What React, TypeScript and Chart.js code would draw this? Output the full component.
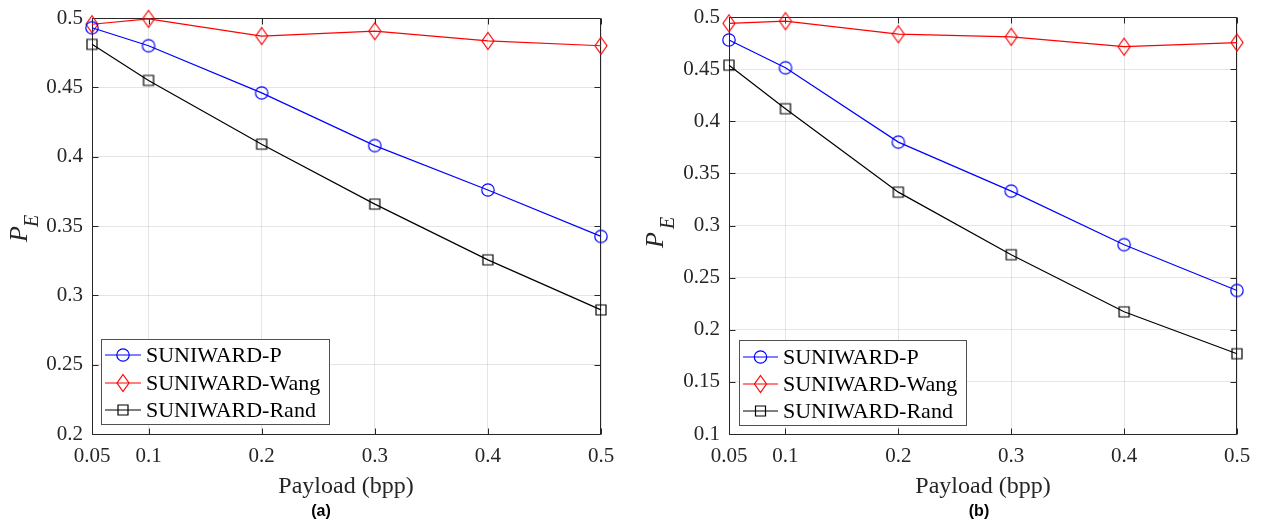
import React, { useEffect, useRef } from 'react';
import { Chart, registerables } from 'chart.js';

Chart.register(...registerables);

// ---------------- data ----------------
const payloads = [0.05, 0.1, 0.2, 0.3, 0.4, 0.5];
const xTickValues = [0.05, 0.1, 0.2, 0.3, 0.4, 0.5];
const seriesNames = ['SUNIWARD-P', 'SUNIWARD-Wang', 'SUNIWARD-Rand'];

const aP = [0.493, 0.48, 0.446, 0.408, 0.376, 0.3425];
const aWang = [0.4955, 0.4994, 0.487, 0.4905, 0.4835, 0.48];
const aRand = [0.481, 0.455, 0.409, 0.3658, 0.3256, 0.2895];
const aYTicks = [0.2, 0.25, 0.3, 0.35, 0.4, 0.45, 0.5];

const bP = [0.478, 0.4513, 0.38, 0.333, 0.2816, 0.2377];
const bWang = [0.4939, 0.496, 0.4835, 0.481, 0.4715, 0.4755];
const bRand = [0.4538, 0.412, 0.332, 0.272, 0.2172, 0.177];
const bYTicks = [0.1, 0.15, 0.2, 0.25, 0.3, 0.35, 0.4, 0.45, 0.5];

const xTitle = 'Payload (bpp)';
const captions = ['(a)', '(b)'];

// ---------------- styles ----------------
const COLORS = ['#0000ff', '#ff0000', '#000000'];
const MARKERS = ['circle', 'diamond', 'square'];
const AXIS = '#262626';
const GRID = 'rgba(38,38,38,0.12)';
const SERIF = 'Liberation Serif';

Chart.defaults.font.family = SERIF;

function drawMarker(ctx: CanvasRenderingContext2D, kind: string, x: number, y: number) {
  ctx.beginPath();
  if (kind === 'circle') {
    ctx.arc(x, y, 6.2, 0, Math.PI * 2);
  } else if (kind === 'diamond') {
    ctx.moveTo(x, y - 8.5);
    ctx.lineTo(x + 6, y);
    ctx.lineTo(x, y + 8.5);
    ctx.lineTo(x - 6, y);
    ctx.closePath();
  } else {
    ctx.rect(x - 5, y - 5, 10, 10);
  }
  ctx.stroke();
}

function makeMarker(kind: string, color: string) {
  const c = document.createElement('canvas');
  const w = kind === 'square' ? 14 : 16;
  const h = kind === 'diamond' ? 22 : kind === 'square' ? 14 : 16;
  c.width = w;
  c.height = h;
  const ctx = c.getContext('2d')!;
  ctx.strokeStyle = color;
  ctx.lineWidth = 1.2;
  drawMarker(ctx, kind, w / 2, h / 2);
  return c;
}

type PanelCfg = {
  series: number[][];
  yTicks: number[];
  yMin: number;
  yMax: number;
  left: number;
  top: number;
  padRight: number;
  yTitleX: number;
  yTitleY: number;
  eOffset: number;
  legend: { x: number; y: number; w: number; h: number; l0: number; l1: number; tx: number; rows: number[] };
  xTitleX: number;
  capX: number;
  caption: string;
};

const panels: PanelCfg[] = [
  {
    series: [aP, aWang, aRand],
    yTicks: aYTicks,
    yMin: 0.2,
    yMax: 0.5,
    left: 92,
    top: 18,
    padRight: 30,
    yTitleX: 27,
    yTitleY: 242,
    eOffset: 15,
    legend: { x: 101, y: 339, w: 228, h: 85, l0: 105, l1: 141, tx: 146, rows: [355, 383, 410] },
    xTitleX: 346,
    capX: 321,
    caption: captions[0],
  },
  {
    series: [bP, bWang, bRand],
    yTicks: bYTicks,
    yMin: 0.1,
    yMax: 0.5,
    left: 98,
    top: 17,
    padRight: 25,
    yTitleX: 32,
    yTitleY: 248,
    eOffset: 19,
    legend: { x: 108, y: 340, w: 227, h: 85, l0: 112, l1: 147, tx: 152, rows: [357, 384, 411] },
    xTitleX: 352,
    capX: 348,
    caption: captions[1],
  },
];

function Panel({ cfg }: { cfg: PanelCfg }) {
  const ref = useRef<HTMLCanvasElement | null>(null);

  useEffect(() => {
    const canvas = ref.current!;
    const deco = {
      id: 'deco',
      beforeDatasetsDraw(chart: any) {
        const { ctx, chartArea } = chart;
        const xs = chart.scales.x;
        const ys = chart.scales.y;
        const L = Math.round(chartArea.left) + 0.5;
        const R = Math.round(chartArea.right) - 0.5;
        const T = Math.round(chartArea.top) + 0.5;
        const B = Math.round(chartArea.bottom) + 0.5;
        ctx.save();
        ctx.strokeStyle = AXIS;
        ctx.lineWidth = 1;
        ctx.beginPath();
        ctx.rect(L, T, R - L, B - T);
        ctx.stroke();
        const tl = 6;
        ctx.beginPath();
        xTickValues.forEach((v) => {
          const px = Math.round(xs.getPixelForValue(v)) + 0.5;
          ctx.moveTo(px, B);
          ctx.lineTo(px, B - tl);
          ctx.moveTo(px, T);
          ctx.lineTo(px, T + tl);
        });
        cfg.yTicks.forEach((v) => {
          const py = Math.round(ys.getPixelForValue(v)) + 0.5;
          ctx.moveTo(L, py);
          ctx.lineTo(L + tl, py);
          ctx.moveTo(R, py);
          ctx.lineTo(R - tl, py);
        });
        ctx.stroke();
        ctx.restore();
      },
      afterDatasetsDraw(chart: any) {
        const { ctx } = chart;
        const lg = cfg.legend;
        ctx.save();
        ctx.fillStyle = '#ffffff';
        ctx.fillRect(lg.x, lg.y, lg.w, lg.h);
        ctx.strokeStyle = '#505050';
        ctx.lineWidth = 1;
        ctx.strokeRect(lg.x + 0.5, lg.y + 0.5, lg.w, lg.h);
        seriesNames.forEach((name, i) => {
          const y = lg.rows[i];
          ctx.strokeStyle = COLORS[i];
          ctx.lineWidth = 1.2;
          ctx.beginPath();
          ctx.moveTo(lg.l0, y);
          ctx.lineTo(lg.l1, y);
          ctx.stroke();
          drawMarker(ctx, MARKERS[i], (lg.l0 + lg.l1) / 2, y);
          ctx.fillStyle = '#000000';
          ctx.font = `22px ${SERIF}`;
          ctx.textAlign = 'left';
          ctx.textBaseline = 'middle';
          ctx.fillText(name, lg.tx, y + 1);
        });
        ctx.restore();
      },
      afterDraw(chart: any) {
        const { ctx } = chart;
        ctx.save();
        // y title P_E
        ctx.translate(cfg.yTitleX, cfg.yTitleY);
        ctx.rotate(-Math.PI / 2);
        ctx.fillStyle = AXIS;
        ctx.textAlign = 'left';
        ctx.textBaseline = 'alphabetic';
        ctx.font = `italic 26px ${SERIF}`;
        ctx.fillText('P', 0, 0);
        ctx.font = `italic 20px ${SERIF}`;
        ctx.fillText('E', cfg.eOffset, 11);
        ctx.restore();

        ctx.save();
        ctx.fillStyle = AXIS;
        ctx.textAlign = 'center';
        ctx.textBaseline = 'alphabetic';
        ctx.font = `24px ${SERIF}`;
        ctx.fillText(xTitle, cfg.xTitleX, 493);
        ctx.fillStyle = '#000000';
        ctx.font = `bold 16px Liberation Sans`;
        ctx.fillText(cfg.caption, cfg.capX, 516);
        ctx.restore();
      },
    };

    const tickFont = { family: SERIF, size: 21 };

    const chart = new Chart(canvas, {
      type: 'line',
      data: {
        datasets: cfg.series.map((vals, i) => ({
          label: seriesNames[i],
          data: payloads.map((x, j) => ({ x, y: vals[j] })),
          borderColor: COLORS[i],
          backgroundColor: COLORS[i],
          borderWidth: 1.2,
          pointStyle: makeMarker(MARKERS[i], COLORS[i]) as any,
          pointRadius: 6,
          pointHoverRadius: 6,
          tension: 0,
          fill: false,
          clip: false as any,
        })),
      },
      options: {
        responsive: false,
        animation: false,
        devicePixelRatio: 1,
        events: [],
        layout: { padding: { left: 0, top: cfg.top, right: cfg.padRight, bottom: 0 } },
        plugins: { legend: { display: false }, tooltip: { enabled: false } },
        scales: {
          x: {
            type: 'linear',
            min: 0.05,
            max: 0.5,
            afterBuildTicks: (s: any) => {
              s.ticks = xTickValues.map((v) => ({ value: v }));
            },
            afterFit: (s: any) => {
              s.height = 89;
              s.paddingLeft = 0;
              s.paddingRight = 0;
            },
            grid: { color: GRID, drawTicks: false, lineWidth: 1 },
            border: { display: false },
            ticks: {
              padding: 10,
              color: AXIS,
              autoSkip: false,
              maxRotation: 0,
              font: tickFont,
              callback: (v: any) => String(v),
            },
          },
          y: {
            type: 'linear',
            min: cfg.yMin,
            max: cfg.yMax,
            afterBuildTicks: (s: any) => {
              s.ticks = cfg.yTicks.map((v) => ({ value: v }));
            },
            afterFit: (s: any) => {
              s.width = cfg.left;
              s.paddingTop = 0;
              s.paddingBottom = 0;
            },
            grid: { color: GRID, drawTicks: false, lineWidth: 1 },
            border: { display: false },
            ticks: {
              padding: 9,
              color: AXIS,
              autoSkip: false,
              font: tickFont,
              callback: (v: any) => String(v),
            },
          },
        },
      } as any,
      plugins: [deco],
    });
    return () => chart.destroy();
  }, [cfg]);

  return <canvas ref={ref} width={631} height={523} style={{ display: 'block', width: 631, height: 523 }} />;
}

export default function App() {
  return (
    <div
      style={{
        position: 'fixed',
        left: 0,
        top: 0,
        width: 1262,
        height: 523,
        display: 'flex',
        background: '#ffffff',
      }}
    >
      <Panel cfg={panels[0]} />
      <Panel cfg={panels[1]} />
    </div>
  );
}
